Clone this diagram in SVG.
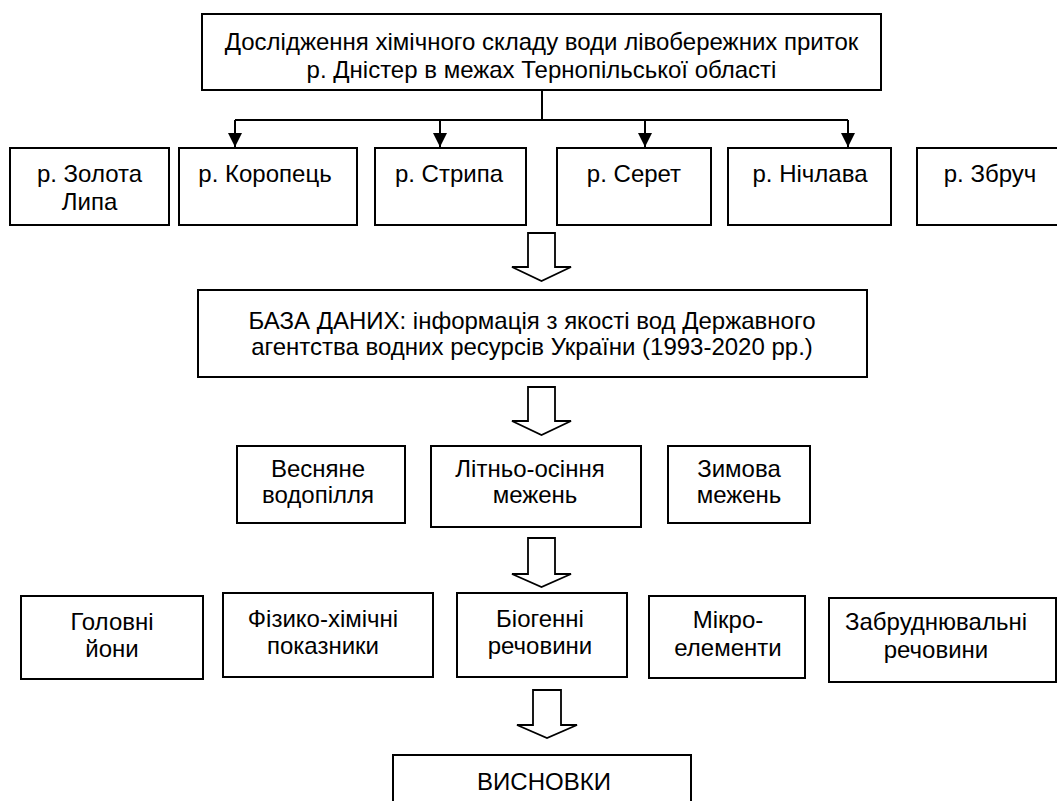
<svg xmlns="http://www.w3.org/2000/svg" width="1057" height="801" viewBox="0 0 1057 801">
<defs>
<style>
.box{fill:#fff;stroke:#000;stroke-width:2}
.t{font-family:"Liberation Sans",Arial,sans-serif;font-size:24px;fill:#000;text-anchor:middle}
.ln{fill:none;stroke:#000;stroke-width:2}
.ha{fill:#fff;stroke:#000;stroke-width:1.8;stroke-linejoin:miter}
</style>
<marker id="ah" markerWidth="14" markerHeight="14" viewBox="0 0 14 14" refX="14" refY="7" orient="auto" markerUnits="userSpaceOnUse">
<path d="M0,0 L14,7 L0,14 Z" fill="#000"/>
</marker>
</defs>
<rect width="1057" height="801" fill="#fff"/>

<g id="top">
<rect class="box" x="202" y="14" width="679" height="76"/>
<text class="t" x="541.5" y="50">Дослідження хімічного складу води лівобережних приток</text>
<text class="t" x="541.5" y="78">р. Дністер в межах Тернопільської області</text>
</g>

<g id="connectors">
<path class="ln" d="M542,90 V120 M235,120 H848"/>
<path class="ln" d="M235,120 V147" marker-end="url(#ah)"/>
<path class="ln" d="M440,120 V147" marker-end="url(#ah)"/>
<path class="ln" d="M645,120 V147" marker-end="url(#ah)"/>
<path class="ln" d="M848,120 V147" marker-end="url(#ah)"/>
<polygon class="ha" points="528,233 555,233 555,267 571,267 541.5,281 512,267 528,267"/>
<polygon class="ha" points="528,387 555,387 555,421 571,421 541.5,435 512,421 528,421"/>
<polygon class="ha" points="528,538 555,538 555,574 571,574 541.5,587 512,574 528,574"/>
<polygon class="ha" points="533,690 561,690 561,725 577,725 547,738 517,725 533,725"/>
</g>

<g id="r1">
<rect class="box" x="10" y="148" width="159" height="77"/>
<text class="t" x="89.5" y="182">р. Золота</text>
<text class="t" x="89.5" y="210">Липа</text>
</g>
<g id="r2">
<rect class="box" x="179" y="148" width="178" height="77"/>
<text class="t" x="265" y="182">р. Коропець</text>
</g>
<g id="r3">
<rect class="box" x="375" y="148" width="151" height="77"/>
<text class="t" x="449" y="182">р. Стрипа</text>
</g>
<g id="r4">
<rect class="box" x="557" y="148" width="154" height="77"/>
<text class="t" x="634" y="182">р. Серет</text>
</g>
<g id="r5">
<rect class="box" x="728" y="148" width="163" height="77"/>
<text class="t" x="810" y="182">р. Нічлава</text>
</g>
<g id="r6">
<rect class="box" x="917" y="148" width="150" height="77"/>
<text class="t" x="990" y="182">р. Збруч</text>
</g>

<g id="db">
<rect class="box" x="198" y="290" width="669" height="87"/>
<text class="t" x="532" y="329">БАЗА ДАНИХ: інформація з якості вод Державного</text>
<text class="t" x="532" y="355">агентства водних ресурсів України (1993-2020 рр.)</text>
</g>

<g id="s1">
<rect class="box" x="237" y="446" width="168" height="77"/>
<text class="t" x="318" y="477">Весняне</text>
<text class="t" x="318" y="503">водопілля</text>
</g>
<g id="s2">
<rect class="box" x="431" y="446" width="210" height="81"/>
<text class="t" x="530" y="477">Літньо-осіння</text>
<text class="t" x="535" y="503">межень</text>
</g>
<g id="s3">
<rect class="box" x="668" y="446" width="142" height="77"/>
<text class="t" x="739" y="477">Зимова</text>
<text class="t" x="739" y="503">межень</text>
</g>

<g id="p1">
<rect class="box" x="21" y="596" width="182" height="83"/>
<text class="t" x="112" y="630">Головні</text>
<text class="t" x="112" y="657">йони</text>
</g>
<g id="p2">
<rect class="box" x="223" y="593" width="210" height="84"/>
<text class="t" x="323" y="627">Фізико-хімічні</text>
<text class="t" x="323" y="654">показники</text>
</g>
<g id="p3">
<rect class="box" x="457" y="593" width="170" height="84"/>
<text class="t" x="540" y="627">Біогенні</text>
<text class="t" x="540" y="654">речовини</text>
</g>
<g id="p4">
<rect class="box" x="649" y="596" width="156" height="82"/>
<text class="t" x="728" y="628">Мікро-</text>
<text class="t" x="728" y="656">елементи</text>
</g>
<g id="p5">
<rect class="box" x="829" y="598" width="227" height="84"/>
<text class="t" x="936" y="630">Забруднювальні</text>
<text class="t" x="936" y="658">речовини</text>
</g>

<g id="end">
<rect class="box" x="393" y="755" width="298" height="60"/>
<text class="t" x="544" y="790">ВИСНОВКИ</text>
</g>
</svg>
